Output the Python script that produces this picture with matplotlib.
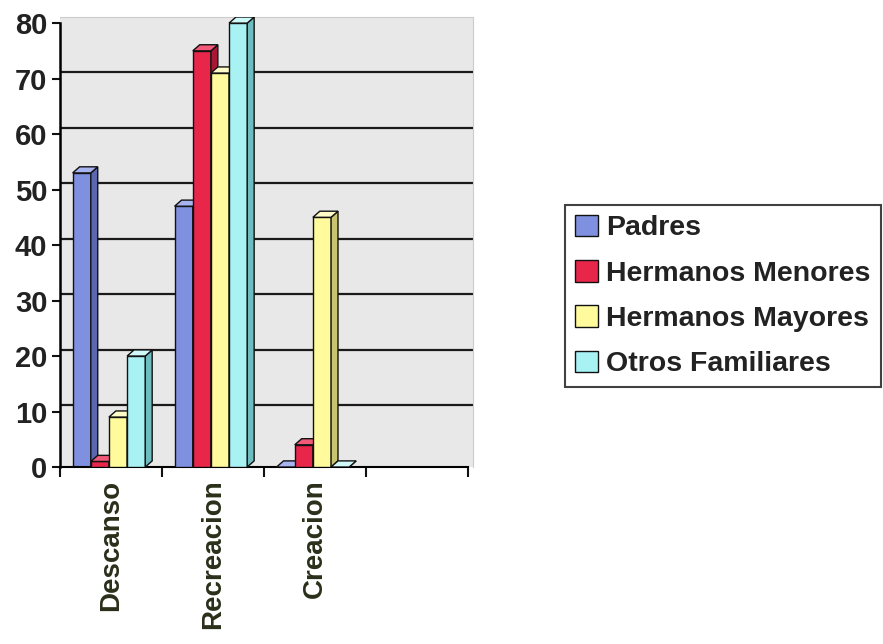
import numpy as np
import matplotlib.pyplot as plt

# ---------------------------------------------------------------
# Data
# ---------------------------------------------------------------
categories = ['Descanso', 'Recreacion', 'Creacion', '']
series = ['Padres', 'Hermanos Menores', 'Hermanos Mayores', 'Otros Familiares']
padres = [53, 47, 0, np.nan]
hermanos_menores = [1, 75, 4, np.nan]
hermanos_mayores = [9, 71, 45, np.nan]
otros_familiares = [20, 80, 0, np.nan]
values = [padres, hermanos_menores, hermanos_mayores, otros_familiares]
y_ticks = [0, 10, 20, 30, 40, 50, 60, 70, 80]

# ---------------------------------------------------------------
# Style
# ---------------------------------------------------------------
face_colors = ['#8090e0', '#e8264a', '#fffa9c', '#a8f2f4']
side_colors = ['#5a66b0', '#a81836', '#c8c470', '#6cbcc0']
top_colors = ['#a8b4f0', '#f05a78', '#fffcc8', '#d0fafa']
text_color = '#222222'

plt.rcParams['font.family'] = ['Liberation Sans', 'DejaVu Sans']
plt.rcParams['font.weight'] = 'bold'

bar_w = 0.178
dx = 0.068      # depth offset in x [category units]
dy = 1.1        # depth offset in y [value units]

fig = plt.figure(figsize=(8.83, 6.44), dpi=100)
ax = fig.add_axes([60 / 883, 1 - 467 / 644, 413 / 883, 450 / 644])
ax.set_facecolor('#e8e8e8')

x = np.arange(len(categories))
offsets = (np.arange(len(series)) - 1.5) * bar_w - 0.02

# back wall grid lines
for v in y_ticks[1:-1]:
    ax.axhline(v + dy, color='#1a1a1a', lw=1.6, zorder=1)

# bars with simple 3D look
z = 2
for ci in range(len(categories)):
    for si in range(len(series)):
        h = values[si][ci]
        if np.isnan(h):
            continue
        x0 = x[ci] + offsets[si] - bar_w / 2
        x1 = x0 + bar_w
        ax.bar(x0, h, width=bar_w, align='edge', color=face_colors[si],
               edgecolor='#111111', lw=1.0, zorder=z)
        ax.fill([x1, x1 + dx, x1 + dx, x1], [0, dy, h + dy, h],
                color=side_colors[si], ec='#111111', lw=1.0, zorder=z)
        ax.fill([x0, x0 + dx, x1 + dx, x1], [h, h + dy, h + dy, h],
                color=top_colors[si], ec='#111111', lw=1.0, zorder=z)
        z += 1

ax.set_xlim(-0.5, 3.55)
ax.set_ylim(0, 80 + dy)

ax.set_yticks(y_ticks)
ax.set_yticklabels([str(v) for v in y_ticks], fontsize=21, color=text_color)
ax.set_xticks(x)
ax.set_xticklabels(categories, rotation=90, fontsize=20, color='#2a2f1a')
ax.set_xticks(np.arange(-0.5, 4, 1), minor=True)
ax.tick_params(axis='x', which='major', length=0, pad=9)
ax.tick_params(axis='x', which='minor', length=7, width=1.5, color='#111111')
ax.tick_params(axis='y', length=6, width=1.5, color='#111111', pad=3)

for side in ['top', 'right']:
    ax.spines[side].set_color('#cccccc')
ax.spines['left'].set_bounds(0, 80)
ax.spines['bottom'].set_bounds(-0.5, 3.5)
ax.spines['left'].set_linewidth(1.8)
ax.spines['bottom'].set_linewidth(1.5)

handles = [plt.Rectangle((0, 0), 1, 1, fc=c, ec='#111111', lw=1.0) for c in face_colors]
leg = fig.legend(handles, series, loc='center left', bbox_to_anchor=(565 / 883, 1 - 296 / 644),
                 fontsize=20.5, frameon=True, fancybox=False, edgecolor='#111111',
                 handlelength=0.8, handleheight=0.8, handletextpad=0.3,
                 labelspacing=0.65, borderpad=0.35, borderaxespad=0,
                 labelcolor=text_color)
leg.get_frame().set_linewidth(1.5)

fig.savefig('out.png', dpi=100)
